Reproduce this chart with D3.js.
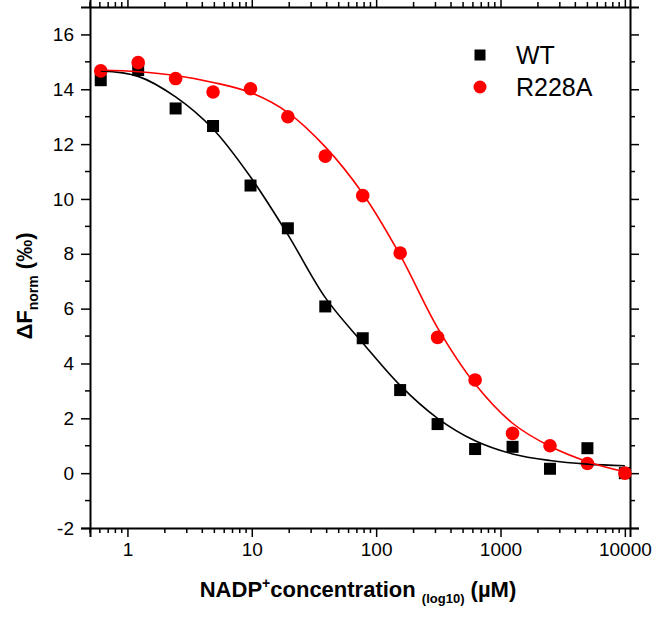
<!DOCTYPE html>
<html>
<head>
<meta charset="utf-8">
<script src="https://cdn.jsdelivr.net/npm/d3@7"></script>
<style>
  body { margin: 0; background: #fff; }
  svg text { font-family: "Liberation Sans", Arial, sans-serif; }
</style>
</head>
<body>
<svg id="chart"></svg>
<script>
// NADP+ dilution series (uM)
const concentrations = [0.61, 1.22, 2.44, 4.88, 9.77, 19.5, 39, 78, 156, 312, 625, 1250, 2500, 5000, 10000];

// measured dF_norm (permille)
const wtValues    = [14.33, 14.70, 13.30, 12.66, 10.49, 8.93, 6.08, 4.92, 3.03, 1.79, 0.88, 0.96, 0.16, 0.91, 0.00];
const r228aValues = [14.67, 14.97, 14.39, 13.90, 14.02, 13.00, 11.56, 10.12, 8.03, 4.95, 3.40, 1.45, 1.00, 0.35, 0.00];

const wtFit    = [14.67, 14.47, 13.72, 12.55, 10.80, 8.70, 6.40, 4.75, 3.20, 2.00, 1.18, 0.70, 0.46, 0.33, 0.27];
const r228aFit = [14.70, 14.64, 14.50, 14.25, 13.88, 13.15, 11.90, 10.20, 7.95, 5.30, 3.25, 1.82, 0.98, 0.42, 0.05];

const seriesNames = ["WT", "R228A"];
const xTickValues = [1, 10, 100, 1000, 10000];
const yTickValues = [-2, 0, 2, 4, 6, 8, 10, 12, 14, 16];

const config = {
    containerWidth: 656,
    containerHeight: 624,
    margin: { top: 7, right: 26, bottom: 96, left: 90 }
};

const width = config.containerWidth - config.margin.left - config.margin.right;
const height = config.containerHeight - config.margin.top - config.margin.bottom;

const svg = d3.select("#chart")
    .attr("width", config.containerWidth)
    .attr("height", config.containerHeight);

const chart = svg.append("g")
    .attr("transform", `translate(${config.margin.left},${config.margin.top})`);

const x = d3.scaleLog().domain([0.5, 11000]).range([0, width]);
const y = d3.scaleLinear().domain([-2, 17]).range([height, 0]);

// minor ticks: every integer multiple inside each decade
const minorX = [];
for (let e = -1; e <= 4; e++) {
    for (let m = 1; m <= 9; m++) {
        const v = m * Math.pow(10, e);
        if (v >= 0.5 && v <= 11000 && !xTickValues.includes(v)) minorX.push(v);
    }
}
const minorY = d3.range(-1, 17, 2);

const tickFont = 19;

// bottom axis
const xAxis = chart.append("g")
    .attr("transform", `translate(0,${height})`)
    .call(d3.axisBottom(x).tickValues(xTickValues).tickFormat(d3.format("d")).tickSize(9).tickPadding(6))
    .call(g => g.selectAll(".tick text").attr("font-size", tickFont).attr("fill", "#000"));
xAxis.selectAll(".minor").data(minorX).join("line")
    .attr("class", "minor")
    .attr("x1", d => x(d)).attr("x2", d => x(d))
    .attr("y1", 0).attr("y2", 5)
    .attr("stroke", "#000").attr("stroke-width", 1.5);

// top axis (mirror, no labels)
const xTop = chart.append("g")
    .call(d3.axisTop(x).tickValues(xTickValues).tickFormat("").tickSize(9));
xTop.selectAll(".minor").data(minorX).join("line")
    .attr("class", "minor")
    .attr("x1", d => x(d)).attr("x2", d => x(d))
    .attr("y1", 0).attr("y2", -5)
    .attr("stroke", "#000").attr("stroke-width", 1.5);

// left axis, plain hyphen for negatives like the original
const yAxis = chart.append("g")
    .call(d3.axisLeft(y).tickValues(yTickValues).tickFormat(d => String(d)).tickSize(9).tickPadding(7))
    .call(g => g.selectAll(".tick text").attr("font-size", tickFont).attr("fill", "#000"));
yAxis.selectAll(".minor").data(minorY).join("line")
    .attr("class", "minor")
    .attr("x1", 0).attr("x2", -5)
    .attr("y1", d => y(d)).attr("y2", d => y(d))
    .attr("stroke", "#000").attr("stroke-width", 1.5);

// right axis (mirror, no labels)
const yRight = chart.append("g")
    .attr("transform", `translate(${width},0)`)
    .call(d3.axisRight(y).tickValues(yTickValues).tickFormat("").tickSize(9));
yRight.selectAll(".minor").data(minorY).join("line")
    .attr("class", "minor")
    .attr("x1", 0).attr("x2", 5)
    .attr("y1", d => y(d)).attr("y2", d => y(d))
    .attr("stroke", "#000").attr("stroke-width", 1.5);

chart.selectAll(".domain").attr("stroke", "#000").attr("stroke-width", 2);
chart.selectAll(".tick line").attr("stroke", "#000").attr("stroke-width", 1.5);

// data points, squares for WT, circles for R228A
const wtPoints = concentrations.map((c, i) => ({ c: c, v: wtValues[i] }));
const r228aPoints = concentrations.map((c, i) => ({ c: c, v: r228aValues[i] }));

const sq = 12;
chart.selectAll(".wt").data(wtPoints).join("rect")
    .attr("class", "wt")
    .attr("x", d => x(d.c) - sq / 2)
    .attr("y", d => y(d.v) - sq / 2)
    .attr("width", sq).attr("height", sq)
    .attr("fill", "#000");

chart.selectAll(".r228a").data(r228aPoints).join("circle")
    .attr("class", "r228a")
    .attr("cx", d => x(d.c))
    .attr("cy", d => y(d.v))
    .attr("r", 6.8)
    .attr("fill", "#ff0000");

// fit lines
const line = d3.line()
    .x(d => x(d.c))
    .y(d => y(d.v))
    .curve(d3.curveCatmullRom.alpha(0.5));

chart.append("path")
    .datum(concentrations.map((c, i) => ({ c: c, v: wtFit[i] })))
    .attr("d", line)
    .attr("fill", "none").attr("stroke", "#000").attr("stroke-width", 1.6);

chart.append("path")
    .datum(concentrations.map((c, i) => ({ c: c, v: r228aFit[i] })))
    .attr("d", line)
    .attr("fill", "none").attr("stroke", "#ff0000").attr("stroke-width", 1.6);

// legend
const legend = svg.append("g").attr("transform", "translate(480,55)");
legend.append("rect")
    .attr("x", -5.5).attr("y", -5.5).attr("width", 11).attr("height", 11)
    .attr("fill", "#000");
legend.append("text")
    .attr("x", 36).attr("y", 9)
    .attr("font-size", 25).text(seriesNames[0]);
legend.append("circle")
    .attr("cx", 0).attr("cy", 32).attr("r", 6.5)
    .attr("fill", "#ff0000");
legend.append("text")
    .attr("x", 36).attr("y", 41)
    .attr("font-size", 25).text(seriesNames[1]);

// x axis title
const xTitle = svg.append("text")
    .attr("x", 358)
    .attr("y", 597)
    .attr("text-anchor", "middle")
    .attr("font-weight", "bold")
    .attr("font-size", 22);
xTitle.append("tspan").text("NADP");
xTitle.append("tspan").attr("font-size", 14).attr("dy", -9).text("+");
xTitle.append("tspan").attr("dy", 9).text("concentration  ");
xTitle.append("tspan").attr("font-size", 13).attr("dy", 6).text("(log10)");
xTitle.append("tspan").attr("dy", -6).text(" (\u00b5M)");

// y axis title
const yTitle = svg.append("text")
    .attr("transform", "translate(32,286) rotate(-90)")
    .attr("text-anchor", "middle")
    .attr("font-weight", "bold")
    .attr("font-size", 22);
yTitle.append("tspan").text("\u0394F");
yTitle.append("tspan").attr("font-size", 14).attr("dy", 6).text("norm");
yTitle.append("tspan").attr("dy", -6).text(" (\u2030)");
</script>
</body>
</html>
